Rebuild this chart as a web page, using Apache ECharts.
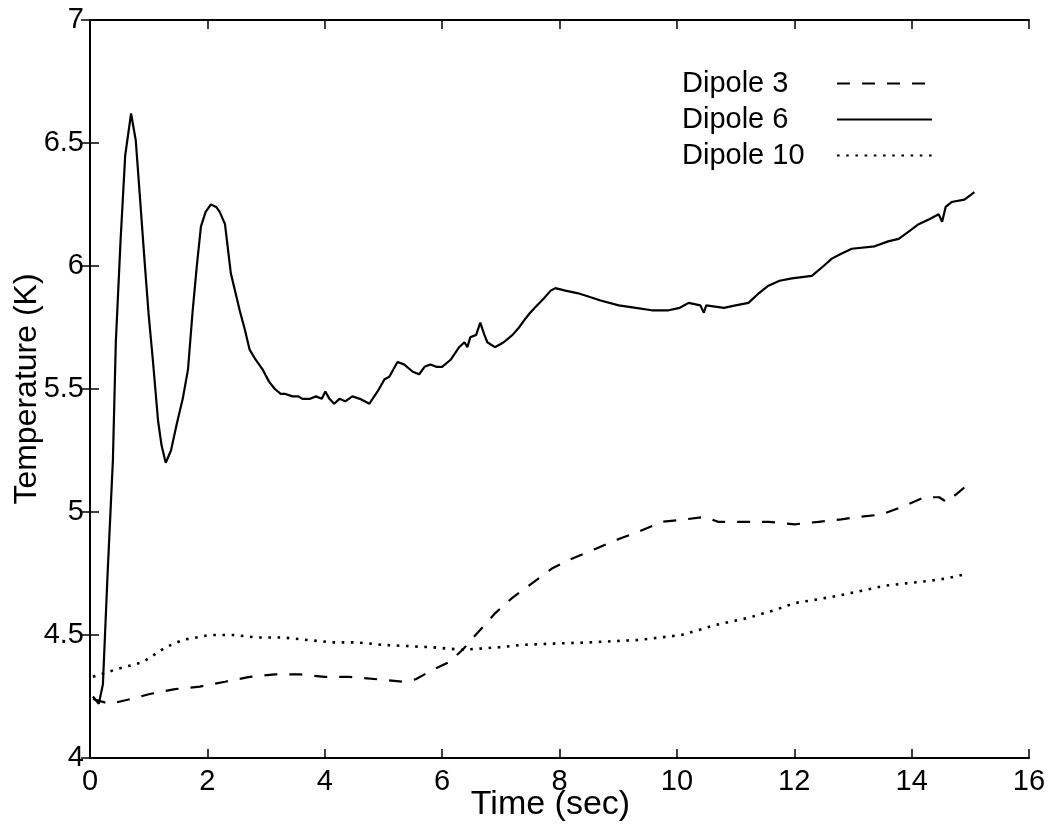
<!DOCTYPE html>
<html>
<head>
<meta charset="utf-8">
<script src="https://cdn.jsdelivr.net/npm/echarts@6/dist/echarts.min.js"></script>
<style>
html,body{margin:0;padding:0;background:#fff;}
#chart{width:1051px;height:835px;}
</style>
</head>
<body>
<div id="chart"></div>
<script>
// ---- data ----
const seriesNames = ['Dipole 3', 'Dipole 6', 'Dipole 10'];
const xTicks = [0, 2, 4, 6, 8, 10, 12, 14, 16];
const yTicks = [4, 4.5, 5, 5.5, 6, 6.5, 7];

const d3X = [0.05,0.34,0.7,1.02,1.45,1.87,2.3,2.72,3.15,3.57,4.0,4.42,4.9,5.32,5.55,5.85,6.12,6.35,6.57,6.91,7.19,7.53,7.87,8.21,8.61,9.01,9.35,9.74,10.14,10.48,10.7,10.94,11.56,12.01,12.41,12.8,13.1,13.49,13.83,14.22,14.47,14.6,14.85,14.9];
const d3Y = [4.24,4.22,4.24,4.26,4.28,4.29,4.31,4.33,4.34,4.34,4.33,4.33,4.32,4.31,4.32,4.36,4.39,4.44,4.50,4.59,4.65,4.71,4.77,4.81,4.85,4.89,4.92,4.96,4.97,4.98,4.96,4.96,4.96,4.95,4.96,4.97,4.98,4.99,5.02,5.06,5.06,5.04,5.09,5.10];

const d6X = [0.05,0.15,0.22,0.30,0.39,0.44,0.52,0.60,0.70,0.78,0.86,0.93,1.00,1.07,1.16,1.22,1.29,1.38,1.48,1.58,1.67,1.75,1.82,1.89,1.97,2.06,2.15,2.21,2.30,2.40,2.48,2.55,2.64,2.72,2.82,2.94,3.05,3.15,3.25,3.33,3.45,3.55,3.62,3.75,3.85,3.95,4.01,4.08,4.16,4.25,4.35,4.47,4.60,4.76,4.90,5.02,5.10,5.24,5.35,5.50,5.61,5.70,5.80,5.90,6.00,6.15,6.29,6.38,6.43,6.48,6.58,6.65,6.72,6.77,6.90,7.05,7.20,7.31,7.40,7.50,7.62,7.74,7.85,7.93,8.10,8.30,8.44,8.70,9.01,9.30,9.57,9.86,10.05,10.20,10.40,10.46,10.50,10.80,11.00,11.22,11.40,11.56,11.75,11.96,12.30,12.50,12.64,12.80,12.98,13.37,13.60,13.78,13.95,14.12,14.30,14.46,14.52,14.58,14.68,14.90,15.07];
const d6Y = [4.25,4.22,4.30,4.75,5.21,5.69,6.10,6.45,6.62,6.51,6.25,6.02,5.80,5.62,5.37,5.27,5.20,5.25,5.36,5.46,5.58,5.82,6.00,6.16,6.22,6.25,6.24,6.22,6.17,5.97,5.89,5.82,5.74,5.66,5.62,5.58,5.53,5.50,5.48,5.48,5.47,5.47,5.46,5.46,5.47,5.46,5.49,5.46,5.44,5.46,5.45,5.47,5.46,5.44,5.49,5.54,5.55,5.61,5.60,5.57,5.56,5.59,5.60,5.59,5.59,5.62,5.67,5.69,5.67,5.71,5.72,5.77,5.72,5.69,5.67,5.69,5.72,5.75,5.78,5.81,5.84,5.87,5.90,5.91,5.90,5.89,5.88,5.86,5.84,5.83,5.82,5.82,5.83,5.85,5.84,5.81,5.84,5.83,5.84,5.85,5.89,5.92,5.94,5.95,5.96,6.00,6.03,6.05,6.07,6.08,6.10,6.11,6.14,6.17,6.19,6.21,6.18,6.24,6.26,6.27,6.30];

const d10X = [0.05,0.44,0.9,1.29,1.58,2.04,2.43,2.85,3.28,3.7,4.13,4.55,4.98,5.4,5.83,6.34,6.97,7.36,7.9,8.5,9.35,10.08,10.65,11.22,11.65,12.01,12.4,12.76,13.15,13.54,13.9,14.29,14.6,14.96];
const d10Y = [4.33,4.36,4.39,4.45,4.48,4.50,4.50,4.49,4.49,4.48,4.47,4.47,4.46,4.455,4.45,4.44,4.45,4.46,4.465,4.47,4.48,4.50,4.54,4.57,4.60,4.63,4.645,4.66,4.68,4.70,4.71,4.72,4.73,4.75];

function zip(xs, ys) { return xs.map((x, i) => [x, ys[i]]); }

const FONT = "'Liberation Sans', Arial, Helvetica, sans-serif";
const chart = echarts.init(document.getElementById('chart'), null, {renderer: 'canvas'});

const axisLine = {show: true, lineStyle: {color: '#000', width: 2}};
const axisTick = {show: true, inside: true, length: 9, lineStyle: {color: '#000', width: 1.5}};

chart.setOption({
  animation: false,
  backgroundColor: '#fff',
  grid: {left: 90, right: 22, top: 20, bottom: 77, containLabel: false},
  legend: {
    orient: 'vertical',
    left: 677,
    top: 64,
    align: 'right',
    itemWidth: 95,
    itemHeight: 14,
    itemGap: 7,
    data: seriesNames,
    itemStyle: {color: 'rgba(0,0,0,0)', borderWidth: 0, opacity: 0},
    formatter: function (n) { return '{a|' + n + '}'; },
    textStyle: {
      fontFamily: FONT, fontSize: 29, color: '#000',
      rich: {a: {width: 150, align: 'left', fontFamily: FONT, fontSize: 29, color: '#000', lineHeight: 29}}
    }
  },
  xAxis: [{
    type: 'value', min: 0, max: 16, interval: 2, position: 'bottom',
    name: 'Time (sec)', nameLocation: 'middle', nameGap: 30, nameMoveOverlap: false,
    nameTextStyle: {fontFamily: FONT, fontSize: 34, color: '#000', padding: [0, 18, 0, 0]},
    axisLine: axisLine, axisTick: axisTick, splitLine: {show: false},
    axisLabel: {fontFamily: FONT, fontSize: 29, color: '#000', margin: 9,
      formatter: v => xTicks.includes(v) ? String(v) : ''}
  }, {
    type: 'value', min: 0, max: 16, interval: 2, position: 'top',
    axisLine: axisLine, axisTick: axisTick, splitLine: {show: false},
    axisLabel: {show: false}
  }],
  yAxis: [{
    type: 'value', min: 4, max: 7, interval: 0.5, position: 'left',
    name: 'Temperature (K)', nameLocation: 'middle', nameGap: 47, nameRotate: 90, nameMoveOverlap: false,
    nameTextStyle: {fontFamily: FONT, fontSize: 32, color: '#000'},
    axisLine: axisLine, axisTick: axisTick, splitLine: {show: false},
    axisLabel: {fontFamily: FONT, fontSize: 29, color: '#000', margin: 6,
      formatter: v => yTicks.includes(v) ? String(v) : ''}
  }, {
    type: 'value', min: 4, max: 7, interval: 0.5, position: 'right',
    axisLine: axisLine, axisTick: axisTick, splitLine: {show: false},
    axisLabel: {show: false}
  }],
  series: [
    {name: seriesNames[0], type: 'line', data: zip(d3X, d3Y), symbol: 'none', showSymbol: false,
      color: '#000', lineStyle: {color: '#000', width: 2.2, type: [13, 12]}},
    {name: seriesNames[1], type: 'line', data: zip(d6X, d6Y), symbol: 'none', showSymbol: false,
      color: '#000', lineStyle: {color: '#000', width: 2.2, type: 'solid'}},
    {name: seriesNames[2], type: 'line', data: zip(d10X, d10Y), symbol: 'none', showSymbol: false,
      color: '#000', lineStyle: {color: '#000', width: 2.6, type: [2.6, 6.6]}}
  ]
});
</script>
</body>
</html>
